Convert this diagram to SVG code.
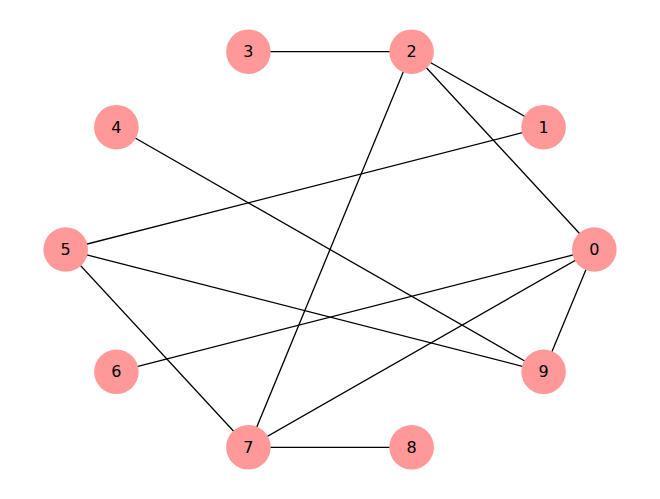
<svg xmlns="http://www.w3.org/2000/svg" width="660" height="499" viewBox="0 0 660 499">
<style>
.e{stroke:#000;stroke-width:1.3;fill:none}
.n circle{fill:#ff9999}
.n text{font-family:"DejaVu Sans",sans-serif;font-size:16px;fill:#000;text-anchor:middle;dominant-baseline:central}
</style>
<rect width="660" height="499" fill="#fff"/>
<g id="edges">
<line class="e" x1="248.4" y1="51.7" x2="411.6" y2="51.7"/>
<line class="e" x1="411.6" y1="51.7" x2="543.6" y2="127.2"/>
<line class="e" x1="411.6" y1="51.7" x2="594.3" y2="249.5"/>
<line class="e" x1="411.6" y1="51.7" x2="248.4" y2="447.3"/>
<line class="e" x1="543.6" y1="127.2" x2="65.7" y2="249.5"/>
<line class="e" x1="116.4" y1="127.2" x2="543.6" y2="371.8"/>
<line class="e" x1="65.7" y1="249.5" x2="543.6" y2="371.8"/>
<line class="e" x1="65.7" y1="249.5" x2="248.4" y2="447.3"/>
<line class="e" x1="594.3" y1="249.5" x2="116.4" y2="371.8"/>
<line class="e" x1="594.3" y1="249.5" x2="248.4" y2="447.3"/>
<line class="e" x1="594.3" y1="249.5" x2="543.6" y2="371.8"/>
<line class="e" x1="248.4" y1="447.3" x2="411.6" y2="447.3"/>
</g>
<g id="node0" class="n"><circle cx="594.3" cy="249.5" r="22.3"/><text x="594.3" y="249.5">0</text></g>
<g id="node1" class="n"><circle cx="543.6" cy="127.2" r="22.3"/><text x="543.6" y="127.2">1</text></g>
<g id="node2" class="n"><circle cx="411.6" cy="51.7" r="22.3"/><text x="411.6" y="51.7">2</text></g>
<g id="node3" class="n"><circle cx="248.4" cy="51.7" r="22.3"/><text x="248.4" y="51.7">3</text></g>
<g id="node4" class="n"><circle cx="116.4" cy="127.2" r="22.3"/><text x="116.4" y="127.2">4</text></g>
<g id="node5" class="n"><circle cx="65.7" cy="249.5" r="22.3"/><text x="65.7" y="249.5">5</text></g>
<g id="node6" class="n"><circle cx="116.4" cy="371.8" r="22.3"/><text x="116.4" y="371.8">6</text></g>
<g id="node7" class="n"><circle cx="248.4" cy="447.3" r="22.3"/><text x="248.4" y="447.3">7</text></g>
<g id="node8" class="n"><circle cx="411.6" cy="447.3" r="22.3"/><text x="411.6" y="447.3">8</text></g>
<g id="node9" class="n"><circle cx="543.6" cy="371.8" r="22.3"/><text x="543.6" y="371.8">9</text></g>
</svg>
